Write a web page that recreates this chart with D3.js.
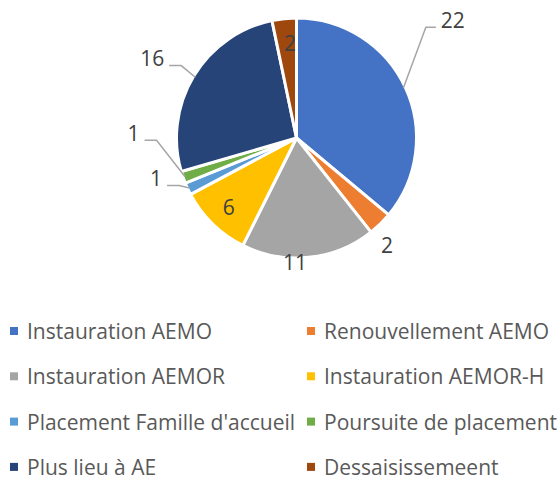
<!DOCTYPE html>
<html>
<head>
<meta charset="utf-8">
<script src="https://cdn.jsdelivr.net/npm/d3@7"></script>
<style>
  body { margin: 0; background: #fff; }
  svg { display: block; font-family: "Open Sans", "Liberation Sans", sans-serif; }
</style>
</head>
<body>
<div id="chart"></div>
<script>
// data
const categories = [
    "Instauration AEMO", "Renouvellement AEMO", "Instauration AEMOR", "Instauration AEMOR-H",
    "Placement Famille d'accueil", "Poursuite de placement", "Plus lieu à AE", "Dessaisissemeent"
];
const values = [22, 2, 11, 6, 1, 1, 16, 2];
const colors = ["#4472C4", "#ED7D31", "#A5A5A5", "#FFC000", "#5B9BD5", "#70AD47", "#264478", "#9E480E"];

// label layout: distance from centre and angle shift (deg) from the slice middle
const labelRadius = [196, 140, 124, 97, 146, 163, 165, 95];
const labelShift = [-12, 4, 6.6, 0, 9.2, 21, -2, 2];
const hasLeader = [true, false, false, false, true, true, true, false];

const width = 560;
const height = 480;
const cx = 296.5, cy = 138, radius = 120;

const svg = d3.select("#chart").append("svg")
    .attr("width", width)
    .attr("height", height);

const pie = d3.pie().sort(null).value(d => d);
const arcs = pie(values);
const arc = d3.arc().innerRadius(0).outerRadius(radius);

const g = svg.append("g").attr("transform", `translate(${cx},${cy})`);

g.selectAll("path.slice")
    .data(arcs)
    .enter().append("path")
    .attr("class", "slice")
    .attr("d", arc)
    .attr("fill", (d, i) => colors[i])
    .attr("stroke", "#fff")
    .attr("stroke-width", 3)
    .attr("stroke-linejoin", "round");

function polar(r, a) {
    return [r * Math.sin(a), -r * Math.cos(a)];
}

// labels
const labels = g.append("g");
arcs.forEach((d, i) => {
    const mid = (d.startAngle + d.endAngle) / 2;
    const a = mid + labelShift[i] * Math.PI / 180;
    const [lx, ly] = polar(labelRadius[i], a);
    const t = labels.append("text")
        .attr("x", lx)
        .attr("y", ly)
        .attr("text-anchor", "middle")
        .attr("dominant-baseline", "central")
        .attr("fill", "#404040")
        .style("font-size", "21px")
        .text(values[i]);

    if (hasLeader[i]) {
        const bb = t.node().getBBox();
        const base = ly + 7.5;
        const onRight = lx > 0;
        const endX = onRight ? bb.x - 5 : bb.x + bb.width + 5;
        const elbowX = onRight ? endX - 10 : endX + 12;
        const [sx, sy] = polar(radius - 2, mid);
        labels.append("polyline")
            .attr("points", [[sx, sy], [elbowX, base], [endX, base]].map(p => p.join(",")).join(" "))
            .attr("fill", "none")
            .attr("stroke", "#A6A6A6")
            .attr("stroke-width", 1.5);
    }
});

// legend
const legend = svg.append("g");
const colX = [10, 307];
const rowY = d3.range(4).map(i => 331 + i * 45.3);
categories.forEach((c, i) => {
    const x = colX[i % 2];
    const y = rowY[Math.floor(i / 2)];
    legend.append("rect")
        .attr("x", x)
        .attr("y", y - 4)
        .attr("width", 8)
        .attr("height", 8)
        .attr("fill", colors[i]);
    legend.append("text")
        .attr("x", x + 17)
        .attr("y", y)
        .attr("dominant-baseline", "central")
        .attr("fill", "#595959")
        .style("font-size", "21px")
        .text(c);
});
</script>
</body>
</html>
